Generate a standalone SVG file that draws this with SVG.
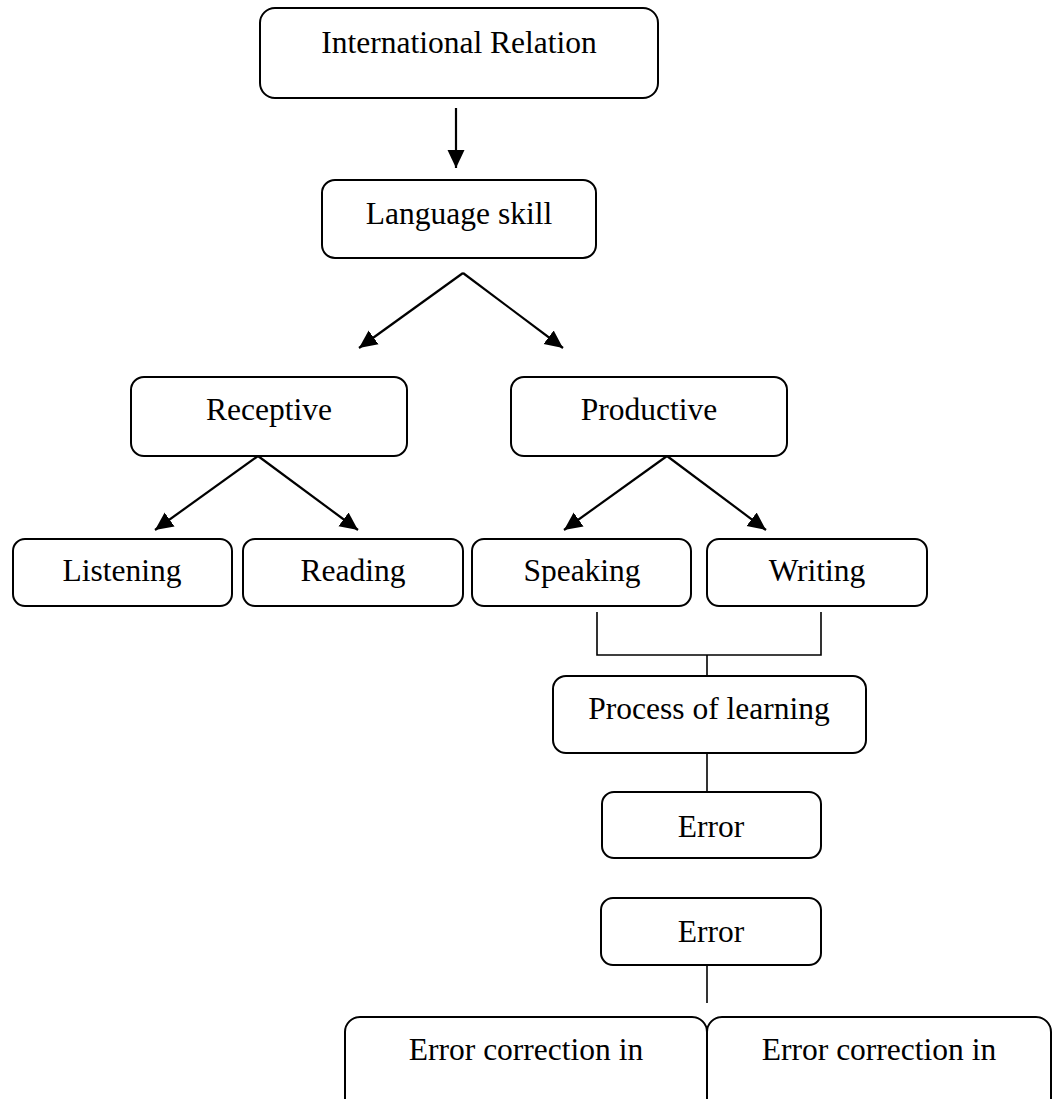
<svg xmlns="http://www.w3.org/2000/svg" width="1052" height="1099" viewBox="0 0 1052 1099">
<style>
.box{fill:#fff;stroke:#000;stroke-width:2}
.t{font-family:"Liberation Serif","Times New Roman",serif;font-size:31.5px;fill:#000;text-anchor:middle}
.ln{fill:none;stroke:#000;stroke-width:1.6}
.ar{fill:none;stroke:#000;stroke-width:2.2;marker-end:url(#ah)}
</style>
<defs>
<marker id="ah" markerUnits="userSpaceOnUse" markerWidth="20" markerHeight="20" viewBox="0 0 20 20" refX="18" refY="10" orient="auto">
<path d="M0,1.5 L18,10 L0,18.5 Z" fill="#000"/>
</marker>
</defs>
<rect width="1052" height="1099" fill="#fff"/>
<g id="connectors">
<line class="ar" x1="456" y1="108" x2="456" y2="168"/>
<line class="ar" x1="463" y1="273" x2="359" y2="348"/>
<line class="ar" x1="463" y1="273" x2="563" y2="348"/>
<line class="ar" x1="258" y1="456" x2="155" y2="530"/>
<line class="ar" x1="258" y1="456" x2="358" y2="530"/>
<line class="ar" x1="667" y1="456" x2="564" y2="530"/>
<line class="ar" x1="667" y1="456" x2="766" y2="530"/>
<path class="ln" d="M597,612 V655 H821 V612 M707,655 V676"/>
<line class="ln" x1="707" y1="753" x2="707" y2="792"/>
<line class="ln" x1="707" y1="965" x2="707" y2="1003"/>
</g>
<g id="n-international">
<rect class="box" x="260" y="8" width="398" height="90" rx="15"/>
<text class="t" x="459" y="53">International Relation</text>
</g>
<g id="n-language">
<rect class="box" x="322" y="180" width="274" height="78" rx="13"/>
<text class="t" x="459" y="224">Language skill</text>
</g>
<g id="n-receptive">
<rect class="box" x="131" y="377" width="276" height="79" rx="13"/>
<text class="t" x="269" y="420">Receptive</text>
</g>
<g id="n-productive">
<rect class="box" x="511" y="377" width="276" height="79" rx="13"/>
<text class="t" x="649" y="420">Productive</text>
</g>
<g id="n-listening">
<rect class="box" x="13" y="539" width="219" height="67" rx="12"/>
<text class="t" x="122" y="581">Listening</text>
</g>
<g id="n-reading">
<rect class="box" x="243" y="539" width="220" height="67" rx="12"/>
<text class="t" x="353" y="581">Reading</text>
</g>
<g id="n-speaking">
<rect class="box" x="472" y="539" width="219" height="67" rx="12"/>
<text class="t" x="582" y="581">Speaking</text>
</g>
<g id="n-writing">
<rect class="box" x="707" y="539" width="220" height="67" rx="12"/>
<text class="t" x="817" y="581">Writing</text>
</g>
<g id="n-process">
<rect class="box" x="553" y="676" width="313" height="77" rx="13"/>
<text class="t" x="709" y="719">Process of learning</text>
</g>
<g id="n-error1">
<rect class="box" x="602" y="792" width="219" height="66" rx="12"/>
<text class="t" x="711" y="837">Error</text>
</g>
<g id="n-error2">
<rect class="box" x="601" y="898" width="220" height="67" rx="12"/>
<text class="t" x="711" y="942">Error</text>
</g>
<g id="n-correction-left">
<rect class="box" x="345" y="1017" width="362" height="110" rx="15"/>
<text class="t" x="526" y="1060">Error correction in</text>
</g>
<g id="n-correction-right">
<rect class="box" x="707" y="1017" width="344" height="110" rx="15"/>
<text class="t" x="879" y="1060">Error correction in</text>
</g>
</svg>
